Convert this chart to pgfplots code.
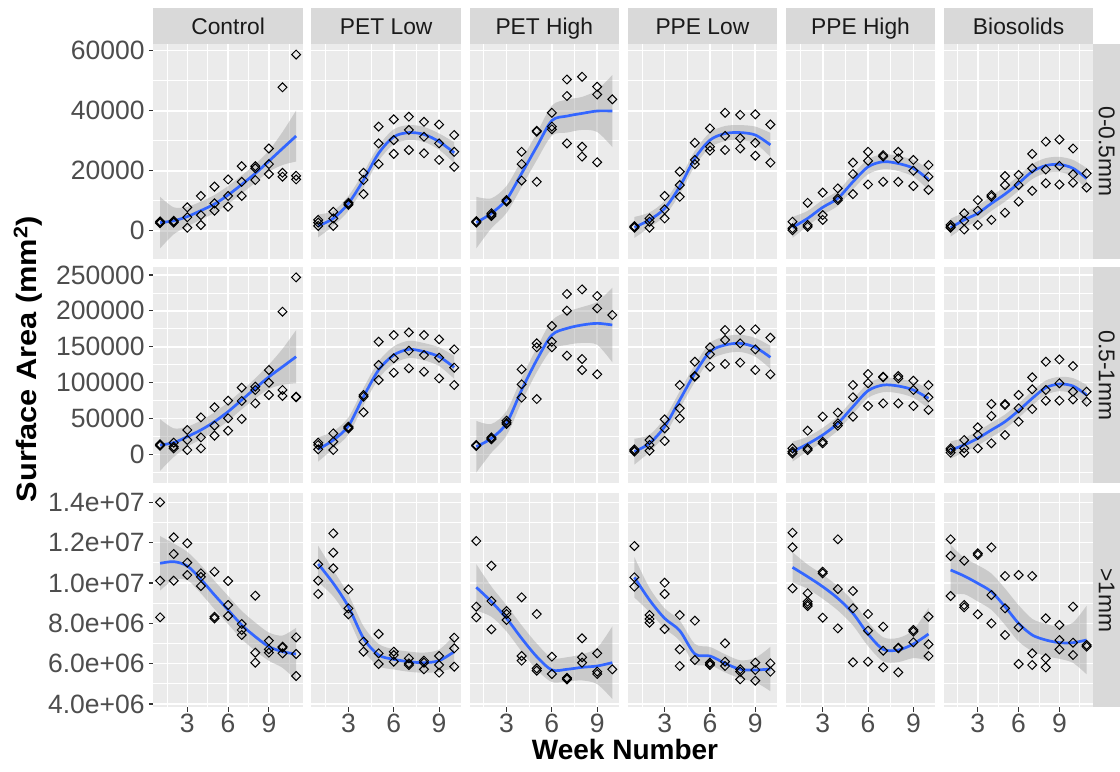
\documentclass[border=0pt]{standalone}
\usepackage{pgfplots}
\usepackage{pgfplotstable}
\pgfplotsset{compat=1.18}
\usepgfplotslibrary{fillbetween}
\usepackage{fontspec}
\setmainfont{Liberation Sans}
\definecolor{panelbg}{HTML}{EBEBEB}
\definecolor{stripbg}{HTML}{D9D9D9}
\definecolor{striptext}{HTML}{1A1A1A}
\definecolor{ticklab}{HTML}{4D4D4D}
\definecolor{tickcol}{HTML}{333333}
\definecolor{fitblue}{HTML}{3366FF}
\definecolor{ribgrey}{HTML}{999999}
\newcommand{\ticksize}{\fontsize{26.5bp}{30bp}\selectfont}
\newcommand{\stripsize}{\fontsize{22.8bp}{27bp}\selectfont}
\newcommand{\titlesize}{\fontsize{28bp}{32bp}\selectfont\bfseries}

\pgfplotsset{
  facet/.style={
    scale only axis, width=149.6bp,
    axis background/.style={fill=panelbg},
    axis line style={draw=none},
    grid=both,
    major grid style={draw=white, line width=1.6bp},
    minor grid style={draw=white, line width=0.8bp},
    tick align=outside,
    major tick length=4.5bp, minor tick length=0bp,
    tick style={draw=none},
    xtick pos=left, ytick pos=left,
    xtick={3,6,9}, minor xtick={1.5,4.5,7.5,10.5},
    xticklabels={}, yticklabels={},
    scaled ticks=false,
    ticklabel style={font=\ticksize, text=ticklab, inner sep=0pt},
  },
  ra/.style={height=215.3bp, ymin=-9533, ymax=62233, ytick={0,20000,40000,60000}, minor ytick={10000,30000,50000}},
  rb/.style={height=215.9bp, ymin=-40435, ymax=260600, ytick={0,50000,100000,150000,200000,250000}, minor ytick={-25000,25000,75000,125000,175000,225000}},
  rc/.style={height=214.6bp, ymin=3836000, ymax=14476000, ytick={4000000,6000000,8000000,10000000,12000000,14000000}, minor ytick={5000000,7000000,9000000,11000000,13000000}},
  ylab/.style={ytick style={draw=tickcol, line width=1.1bp}, yticklabel style={xshift=-4bp}},
  xlab/.style={xtick style={draw=tickcol, line width=1.1bp}, xticklabels={3,6,9}, xticklabel style={yshift=-2bp}},
  c11/.style={xmin=0.5, xmax=11.5},
  c10/.style={xmin=0.55, xmax=10.45},
  pts/.style={only marks, mark=square, mark size=3.15bp, mark options={rotate=45, draw=black, fill=none, line width=1bp}},
  fitline/.style={smooth, draw=fitblue, line width=2.7bp, no marks},
  rib/.style={fill=ribgrey, fill opacity=0.4, draw=none},
}

\newcommand{\facet}[5]{%
\begin{axis}[facet, at={(#1bp,-#2bp)}, anchor=north west, #3]
\addplot[pts] coordinates {#4};
\addplot[name path=hi, draw=none, smooth] table[x=w, y=hi] {#5};
\addplot[name path=lo, draw=none, smooth] table[x=w, y=lo] {#5};
\addplot[rib] fill between[of=hi and lo];
\addplot[fitline] table[x=w, y=fit] {#5};
\end{axis}}

% ---------- smooth fits: week, fit, lower, upper ----------
\pgfplotstableread[row sep=\\]{w fit lo hi\\
1 2700 -5900 11300\\ 2 3300 -1200 7800\\ 3 4700 1400 8000\\ 4 6700 3700 9700\\ 5 8900 5900 11900\\ 6 11900 8900 14900\\ 7 15400 12400 18400\\ 8 19100 16000 22200\\ 9 23200 19700 26700\\ 10 27400 21900 32900\\ 11 31550 23050 40050\\}\fitAa
\pgfplotstableread[row sep=\\]{w fit lo hi\\
1 1600 -2200 5400\\ 2 4100 1600 6600\\ 3 9100 6600 11600\\ 4 16900 14400 19400\\ 5 25800 23300 28300\\ 6 31300 28800 33800\\ 7 32700 30200 35200\\ 8 32100 29600 34600\\ 9 29700 27000 32400\\ 10 26000 22500 29500\\}\fitAb
\pgfplotstableread[row sep=\\]{w fit lo hi\\
1 2700 -5900 11300\\ 2 5800 800 10800\\ 3 10400 5900 14900\\ 4 19100 14600 23600\\ 5 28000 23500 32500\\ 6 36700 31700 41700\\ 7 38200 32700 43700\\ 8 39100 33600 44600\\ 9 39900 32900 46900\\ 10 39900 27900 51900\\}\fitAc
\pgfplotstableread[row sep=\\]{w fit lo hi\\
1 1100 -2400 4600\\ 2 3600 1100 6100\\ 3 7400 4900 9900\\ 4 14700 12200 17200\\ 5 24100 21600 26600\\ 6 30200 27700 32700\\ 7 32400 29900 34900\\ 8 32700 30200 35200\\ 9 31900 29100 34700\\ 10 28600 24600 32600\\}\fitAd
\pgfplotstableread[row sep=\\]{w fit lo hi\\
1 1100 -2400 4600\\ 2 4100 1600 6600\\ 3 7800 5300 10300\\ 4 10800 8300 13300\\ 5 16300 13800 18800\\ 6 21300 18800 23800\\ 7 23000 20500 25500\\ 8 22400 19900 24900\\ 9 20800 18000 23600\\ 10 17100 13600 20600\\}\fitAe
\pgfplotstableread[row sep=\\]{w fit lo hi\\
1 1000 -2000 4000\\ 2 3600 1100 6100\\ 3 5800 3300 8300\\ 4 9100 6600 11600\\ 5 12200 9700 14700\\ 6 15800 13300 18300\\ 7 19700 17200 22200\\ 8 21700 19200 24200\\ 9 22100 19600 24600\\ 10 20800 18000 23600\\ 11 17400 13900 20900\\}\fitAf

\pgfplotstableread[row sep=\\]{w fit lo hi\\
1 13000 -23000 49000\\ 2 16200 -3800 36200\\ 3 24600 10600 38600\\ 4 33900 20900 46900\\ 5 45500 32500 58500\\ 6 59500 46500 72500\\ 7 75700 62700 88700\\ 8 92000 78000 106000\\ 9 108000 91000 125000\\ 10 122000 97000 147000\\ 11 136100 99100 173100\\}\fitBa
\pgfplotstableread[row sep=\\]{w fit lo hi\\
1 6900 -10100 23900\\ 2 19900 7900 31900\\ 3 39500 27500 51500\\ 4 80400 68400 92400\\ 5 117600 105600 129600\\ 6 138400 126400 150400\\ 7 146300 134300 158300\\ 8 143100 131100 155100\\ 9 136100 123100 149100\\ 10 121300 105300 137300\\}\fitBb
\pgfplotstableread[row sep=\\]{w fit lo hi\\
1 10600 -25400 46600\\ 2 22300 2300 42300\\ 3 43200 26200 60200\\ 4 89700 72700 106700\\ 5 131500 114500 148500\\ 6 166300 146300 186300\\ 7 175600 152600 198600\\ 8 180300 155300 205300\\ 9 182600 152600 212600\\ 10 180300 128300 232300\\}\fitBc
\pgfplotstableread[row sep=\\]{w fit lo hi\\
1 3700 -14300 21700\\ 2 15300 3300 27300\\ 3 38500 26500 50500\\ 4 75700 63700 87700\\ 5 112900 100900 124900\\ 6 143100 131100 155100\\ 7 152400 140400 164400\\ 8 154700 142700 166700\\ 9 149200 136200 162200\\ 10 135200 119200 151200\\}\fitBd
\pgfplotstableread[row sep=\\]{w fit lo hi\\
1 3700 -10300 17700\\ 2 14400 4400 24400\\ 3 26900 16900 36900\\ 4 43200 33200 53200\\ 5 66400 56400 76400\\ 6 88700 78700 98700\\ 7 96600 86600 106600\\ 8 95200 85200 105200\\ 9 89700 78700 100700\\ 10 78000 64000 92000\\}\fitBe
\pgfplotstableread[row sep=\\]{w fit lo hi\\
1 6000 -6000 18000\\ 2 13000 3000 23000\\ 3 22300 12300 32300\\ 4 33900 23900 43900\\ 5 45500 35500 55500\\ 6 60900 50900 70900\\ 7 78000 68000 88000\\ 8 92900 82900 102900\\ 9 98000 88000 108000\\ 10 95200 84200 106200\\ 11 82700 68700 96700\\}\fitBf

\pgfplotstableread[row sep=\\]{w fit lo hi\\
1 10974000 9624000 12324000\\ 2 11057000 10157000 11957000\\ 3 10842000 10142000 11542000\\ 4 10181000 9481000 10881000\\ 5 9404000 8704000 10104000\\ 6 8660000 7960000 9360000\\ 7 7917000 7217000 8617000\\ 8 7338000 6638000 8038000\\ 9 6843000 6143000 7543000\\ 10 6595000 5795000 7395000\\ 11 6479000 5179000 7779000\\}\fitCa
\pgfplotstableread[row sep=\\]{w fit lo hi\\
1 10941000 10041000 11841000\\ 2 9983000 9333000 10633000\\ 3 8826000 8226000 9426000\\ 4 7256000 6656000 7856000\\ 5 6429000 5879000 6979000\\ 6 6215000 5715000 6715000\\ 7 6099000 5599000 6599000\\ 8 6049000 5549000 6549000\\ 9 6148000 5598000 6698000\\ 10 6595000 5795000 7395000\\}\fitCb
\pgfplotstableread[row sep=\\]{w fit lo hi\\
1 9784000 8634000 10934000\\ 2 9074000 8324000 9824000\\ 3 8247000 7597000 8897000\\ 4 7256000 6606000 7906000\\ 5 6347000 5697000 6997000\\ 6 5686000 5086000 6286000\\ 7 5719000 5119000 6319000\\ 8 5818000 5168000 6468000\\ 9 5884000 4984000 6784000\\ 10 6049000 4249000 7849000\\}\fitCc
\pgfplotstableread[row sep=\\]{w fit lo hi\\
1 10280000 9280000 11280000\\ 2 9156000 8556000 9756000\\ 3 8247000 7747000 8747000\\ 4 7636000 7136000 8136000\\ 5 6479000 5979000 6979000\\ 6 6380000 5930000 6830000\\ 7 6016000 5566000 6466000\\ 8 5719000 5269000 6169000\\ 9 5686000 5086000 6286000\\ 10 5735000 4635000 6835000\\}\fitCd
\pgfplotstableread[row sep=\\]{w fit lo hi\\
1 10776000 10026000 11526000\\ 2 10313000 9713000 10913000\\ 3 9817000 9217000 10417000\\ 4 9239000 8639000 9839000\\ 5 8495000 7895000 9095000\\ 6 7470000 6870000 8070000\\ 7 6710000 6110000 7310000\\ 8 6677000 6077000 7277000\\ 9 6975000 6275000 7675000\\ 10 7470000 6170000 8770000\\}\fitCe
\pgfplotstableread[row sep=\\]{w fit lo hi\\
1 10644000 9394000 11894000\\ 2 10346000 9446000 11246000\\ 3 9983000 9083000 10883000\\ 4 9569000 8669000 10469000\\ 5 8826000 7926000 9726000\\ 6 7999000 7099000 8899000\\ 7 7421000 6621000 8221000\\ 8 7173000 6373000 7973000\\ 9 7041000 6241000 7841000\\ 10 7041000 6041000 8041000\\ 11 7173000 5473000 8873000\\}\fitCf

\begin{document}
\begin{tikzpicture}
% ----- top strips -----
\foreach \x/\lab in {153.3/Control, 311.4/PET Low, 469.5/PET High, 627.6/PPE Low, 785.7/PPE High, 943.8/Biosolids}{
  \fill[stripbg] (\x bp,-8.3bp) rectangle ++(149.6bp,-35.7bp);
  \node[font=\stripsize, text=striptext, anchor=base] at ({\x bp+74.8bp},-34.3bp) {\lab};
}
% ----- right strips -----
\fill[stripbg] (1093.4bp,-44bp) rectangle (1120bp,-259.3bp);
\fill[stripbg] (1093.4bp,-267.4bp) rectangle (1120bp,-483.3bp);
\fill[stripbg] (1093.4bp,-492.7bp) rectangle (1120bp,-707.3bp);
\node[font=\stripsize, text=striptext, rotate=-90] at (1106.7bp,-151.6bp) {0-0.5mm};
\node[font=\stripsize, text=striptext, rotate=-90] at (1106.7bp,-375.4bp) {0.5-1mm};
\node[font=\stripsize, text=striptext, rotate=-90] at (1106.7bp,-600bp) {>1mm};

% ----- row A: 0-0.5mm -----
\facet{153.3}{44}{ra,c11,ylab,yticklabels={0,20000,40000,60000}}{(1,2500)(1,2800)(1,3100)(2,2700)(2,3000)(2,3300)(3,7800)(3,1000)(3,4500)(4,11600)(4,5200)(4,1900)(5,14700)(5,9100)(5,6700)(6,17100)(6,11600)(6,8000)(7,21500)(7,16300)(7,11600)(8,21500)(8,20800)(8,16900)(9,27400)(9,22200)(9,18900)(10,47800)(10,19300)(10,18000)(11,58700)(11,18300)(11,17100)}{\fitAa}
\facet{311.4}{44}{ra,c10}{(1,3600)(1,1600)(1,2700)(2,6300)(2,4100)(2,1600)(3,8900)(3,8600)(3,9300)(4,19300)(4,16900)(4,12200)(5,34700)(5,29100)(5,22200)(6,37100)(6,30200)(6,25600)(7,38000)(7,33600)(7,26900)(8,36300)(8,31300)(8,25800)(9,35400)(9,29100)(9,23600)(10,31900)(10,26300)(10,21300)}{\fitAb}
\facet{469.5}{44}{ra,c10}{(1,3200)(1,2700)(1,3000)(2,5800)(2,4900)(2,5300)(3,10200)(3,9700)(3,9900)(4,26300)(4,22200)(4,16700)(5,33300)(5,33000)(5,16300)(6,39300)(6,34700)(6,33800)(7,50400)(7,44900)(7,29100)(8,51300)(8,28000)(8,24700)(9,48000)(9,45400)(9,22800)(10,43800)}{\fitAc}
\facet{627.6}{44}{ra,c10}{(1,1300)(1,1500)(1,1000)(2,4100)(2,1000)(2,3000)(3,11600)(3,7100)(3,4100)(4,19700)(4,15200)(4,11300)(5,29300)(5,23600)(5,22200)(6,34100)(6,28000)(6,26700)(7,39300)(7,31600)(7,26900)(8,38600)(8,30800)(8,27400)(9,38800)(9,29300)(9,25000)(10,35400)(10,22700)}{\fitAd}
\facet{785.7}{44}{ra,c10}{(1,3000)(1,800)(1,200)(2,9300)(2,1900)(2,1300)(3,12700)(3,5200)(3,3600)(4,14100)(4,10800)(4,10200)(5,22700)(5,18900)(5,12200)(6,26300)(6,23300)(6,15400)(7,25200)(7,24700)(7,16300)(8,26300)(8,24100)(8,16300)(9,23600)(9,20000)(9,14900)(10,21900)(10,18000)(10,13600)}{\fitAe}
\facet{943.8}{44}{ra,c11}{(1,1900)(1,1300)(1,1000)(2,5800)(2,3300)(2,400)(3,10200)(3,6700)(3,1900)(4,11900)(4,11300)(4,3600)(5,18200)(5,15200)(5,6000)(6,18600)(6,15200)(6,9700)(7,25600)(7,20800)(7,13300)(8,29700)(8,20400)(8,15800)(9,30400)(9,21600)(9,15400)(10,27400)(10,18800)(10,16000)(11,19100)(11,14400)}{\fitAf}

% ----- row B: 0.5-1mm -----
\facet{153.3}{267.4}{rb,c11,ylab,yticklabels={0,50000,100000,150000,200000,250000}}{(1,12000)(1,13000)(1,14000)(2,16200)(2,10600)(2,8300)(3,33900)(3,6000)(3,20000)(4,51500)(4,23600)(4,8300)(5,65500)(5,39900)(5,26000)(6,74800)(6,50200)(6,32900)(7,92900)(7,74300)(7,49200)(8,94300)(8,89700)(8,71000)(9,117500)(9,99800)(9,82700)(10,198800)(10,89700)(10,81300)(11,246700)(11,80400)(11,79500)}{\fitBa}
\facet{311.4}{267.4}{rb,c10}{(1,16200)(1,6900)(1,13000)(2,29200)(2,17600)(2,6000)(3,38500)(3,37100)(3,36000)(4,82700)(4,80400)(4,58500)(5,157000)(5,124500)(5,103600)(6,166300)(6,133800)(6,113800)(7,170000)(7,144500)(7,119900)(8,166300)(8,138400)(8,115200)(9,160300)(9,134700)(9,105900)(10,146300)(10,120800)(10,96600)}{\fitBb}
\facet{469.5}{267.4}{rb,c10}{(1,13000)(1,11600)(1,12300)(2,23600)(2,20900)(2,22200)(3,46900)(3,42200)(3,44000)(4,118500)(4,97600)(4,79000)(5,154700)(5,149200)(5,77100)(6,178900)(6,157000)(6,149200)(7,223500)(7,200300)(7,137500)(8,230000)(8,132800)(8,117500)(9,220700)(9,203500)(9,111500)(10,194200)}{\fitBc}
\facet{627.6}{267.4}{rb,c10}{(1,6900)(1,5100)(1,3700)(2,19900)(2,5100)(2,13000)(3,48700)(3,36200)(3,18600)(4,96600)(4,64100)(4,50200)(5,129100)(5,109100)(5,108200)(6,149200)(6,139400)(6,122200)(7,173300)(7,159400)(7,125900)(8,173300)(8,154700)(8,127800)(9,174200)(9,146300)(9,117500)(10,162600)(10,111500)}{\fitBd}
\facet{785.7}{267.4}{rb,c10}{(1,8300)(1,3700)(1,1300)(2,33000)(2,8300)(2,6000)(3,52500)(3,17600)(3,15300)(4,58100)(4,43200)(4,39900)(5,96600)(5,79500)(5,52500)(6,112000)(6,99000)(6,67400)(7,108200)(7,107300)(7,71000)(8,109100)(8,105900)(8,71000)(9,102600)(9,89700)(9,67400)(10,96600)(10,79500)(10,61800)}{\fitBe}
\facet{943.8}{267.4}{rb,c11}{(1,8300)(1,6000)(1,2300)(2,19900)(2,8300)(2,2300)(3,37600)(3,26900)(3,8300)(4,70100)(4,53400)(4,15300)(5,70100)(5,68700)(5,26900)(6,82700)(6,64100)(6,45500)(7,107300)(7,90600)(7,63100)(8,129100)(8,89700)(8,74800)(9,132300)(9,99000)(9,74800)(10,123100)(10,87400)(10,76500)(11,87400)(11,73400)}{\fitBf}

% ----- row C: >1mm -----
\facet{153.3}{492.7}{rc,c11,ylab,xlab,yticklabels={4.0e+06,6.0e+06,8.0e+06,1.0e+07,1.2e+07,1.4e+07}}{(1,14000000)(1,10115000)(1,8297000)(2,12263000)(2,11437000)(2,10115000)(3,11966000)(3,11007000)(3,10396000)(4,10478000)(4,9850000)(4,10300000)(5,10561000)(5,8330000)(5,8247000)(6,10098000)(6,8908000)(6,8363000)(7,7966000)(7,7669000)(7,7421000)(8,9371000)(8,6545000)(8,6049000)(9,7140000)(9,6710000)(9,6545000)(10,6843000)(10,6793000)(10,6512000)(11,7305000)(11,6479000)(11,5388000)}{\fitCa}
\facet{311.4}{492.7}{rc,c10,xlab}{(1,10924000)(1,10115000)(1,9454000)(2,12461000)(2,11503000)(2,10726000)(3,9685000)(3,8743000)(3,8445000)(4,7090000)(4,6595000)(5,7470000)(5,6512000)(5,5983000)(6,6595000)(6,6429000)(6,6099000)(7,6264000)(7,6016000)(7,5934000)(8,6148000)(8,6049000)(8,5719000)(9,6380000)(9,5934000)(9,5553000)(10,7289000)(10,6760000)(10,5851000)}{\fitCb}
\facet{469.5}{492.7}{rc,c10,xlab}{(1,12081000)(1,8826000)(1,8297000)(2,10858000)(2,9107000)(2,7702000)(3,8611000)(3,8462000)(3,8165000)(4,9288000)(4,6380000)(4,6148000)(5,8462000)(5,5768000)(5,5653000)(6,6347000)(6,5487000)(7,5300000)(7,5270000)(7,5220000)(8,7256000)(8,6314000)(8,6049000)(9,6512000)(9,5603000)(9,5487000)(10,5719000)}{\fitCc}
\facet{627.6}{492.7}{rc,c10,xlab}{(1,11833000)(1,10280000)(1,9817000)(2,8412000)(2,8214000)(2,8032000)(3,10015000)(3,9454000)(3,7718000)(4,8412000)(4,6710000)(4,5884000)(5,8132000)(5,6181000)(6,6050000)(6,5980000)(6,5930000)(7,7008000)(7,6099000)(7,5884000)(8,5719000)(8,5603000)(8,5223000)(9,6049000)(9,5686000)(9,5157000)(10,6016000)(10,5603000)}{\fitCd}
\facet{785.7}{492.7}{rc,c10,xlab}{(1,12494000)(1,11767000)(1,9735000)(2,9487000)(2,9074000)(2,8958000)(2,8859000)(3,10561000)(3,10478000)(3,8280000)(4,12164000)(4,9701000)(4,7751000)(5,9602000)(5,8743000)(5,6066000)(6,8462000)(6,7636000)(6,6099000)(7,7834000)(7,6644000)(7,5818000)(8,6793000)(8,6760000)(8,5570000)(9,7669000)(9,7586000)(9,7057000)(10,8330000)(10,6958000)(10,6380000)}{\fitCe}
\facet{943.8}{492.7}{rc,c11,xlab}{(1,12164000)(1,11338000)(1,9354000)(2,11106000)(2,8908000)(2,8793000)(3,11470000)(3,11387000)(3,8445000)(4,11767000)(4,9404000)(4,7999000)(5,10346000)(5,8743000)(5,7421000)(6,10396000)(6,7801000)(6,5983000)(7,10346000)(7,6512000)(7,5934000)(8,8247000)(8,6264000)(8,5818000)(9,7917000)(9,7173000)(9,6710000)(10,8826000)(10,7041000)(10,6429000)(11,6925000)(11,6843000)}{\fitCf}

% ----- axis titles -----
\node[font=\titlesize, anchor=base] at (625bp,-759.3bp) {Week Number};
\node[font=\titlesize, rotate=90] at (28bp,-359bp) {\scalebox{1.1}[1]{Surface Area (mm\textsuperscript{2})}};

\pgfresetboundingbox
\path[use as bounding box] (0bp,0bp) rectangle (1120bp,-772bp);
\end{tikzpicture}
\end{document}
